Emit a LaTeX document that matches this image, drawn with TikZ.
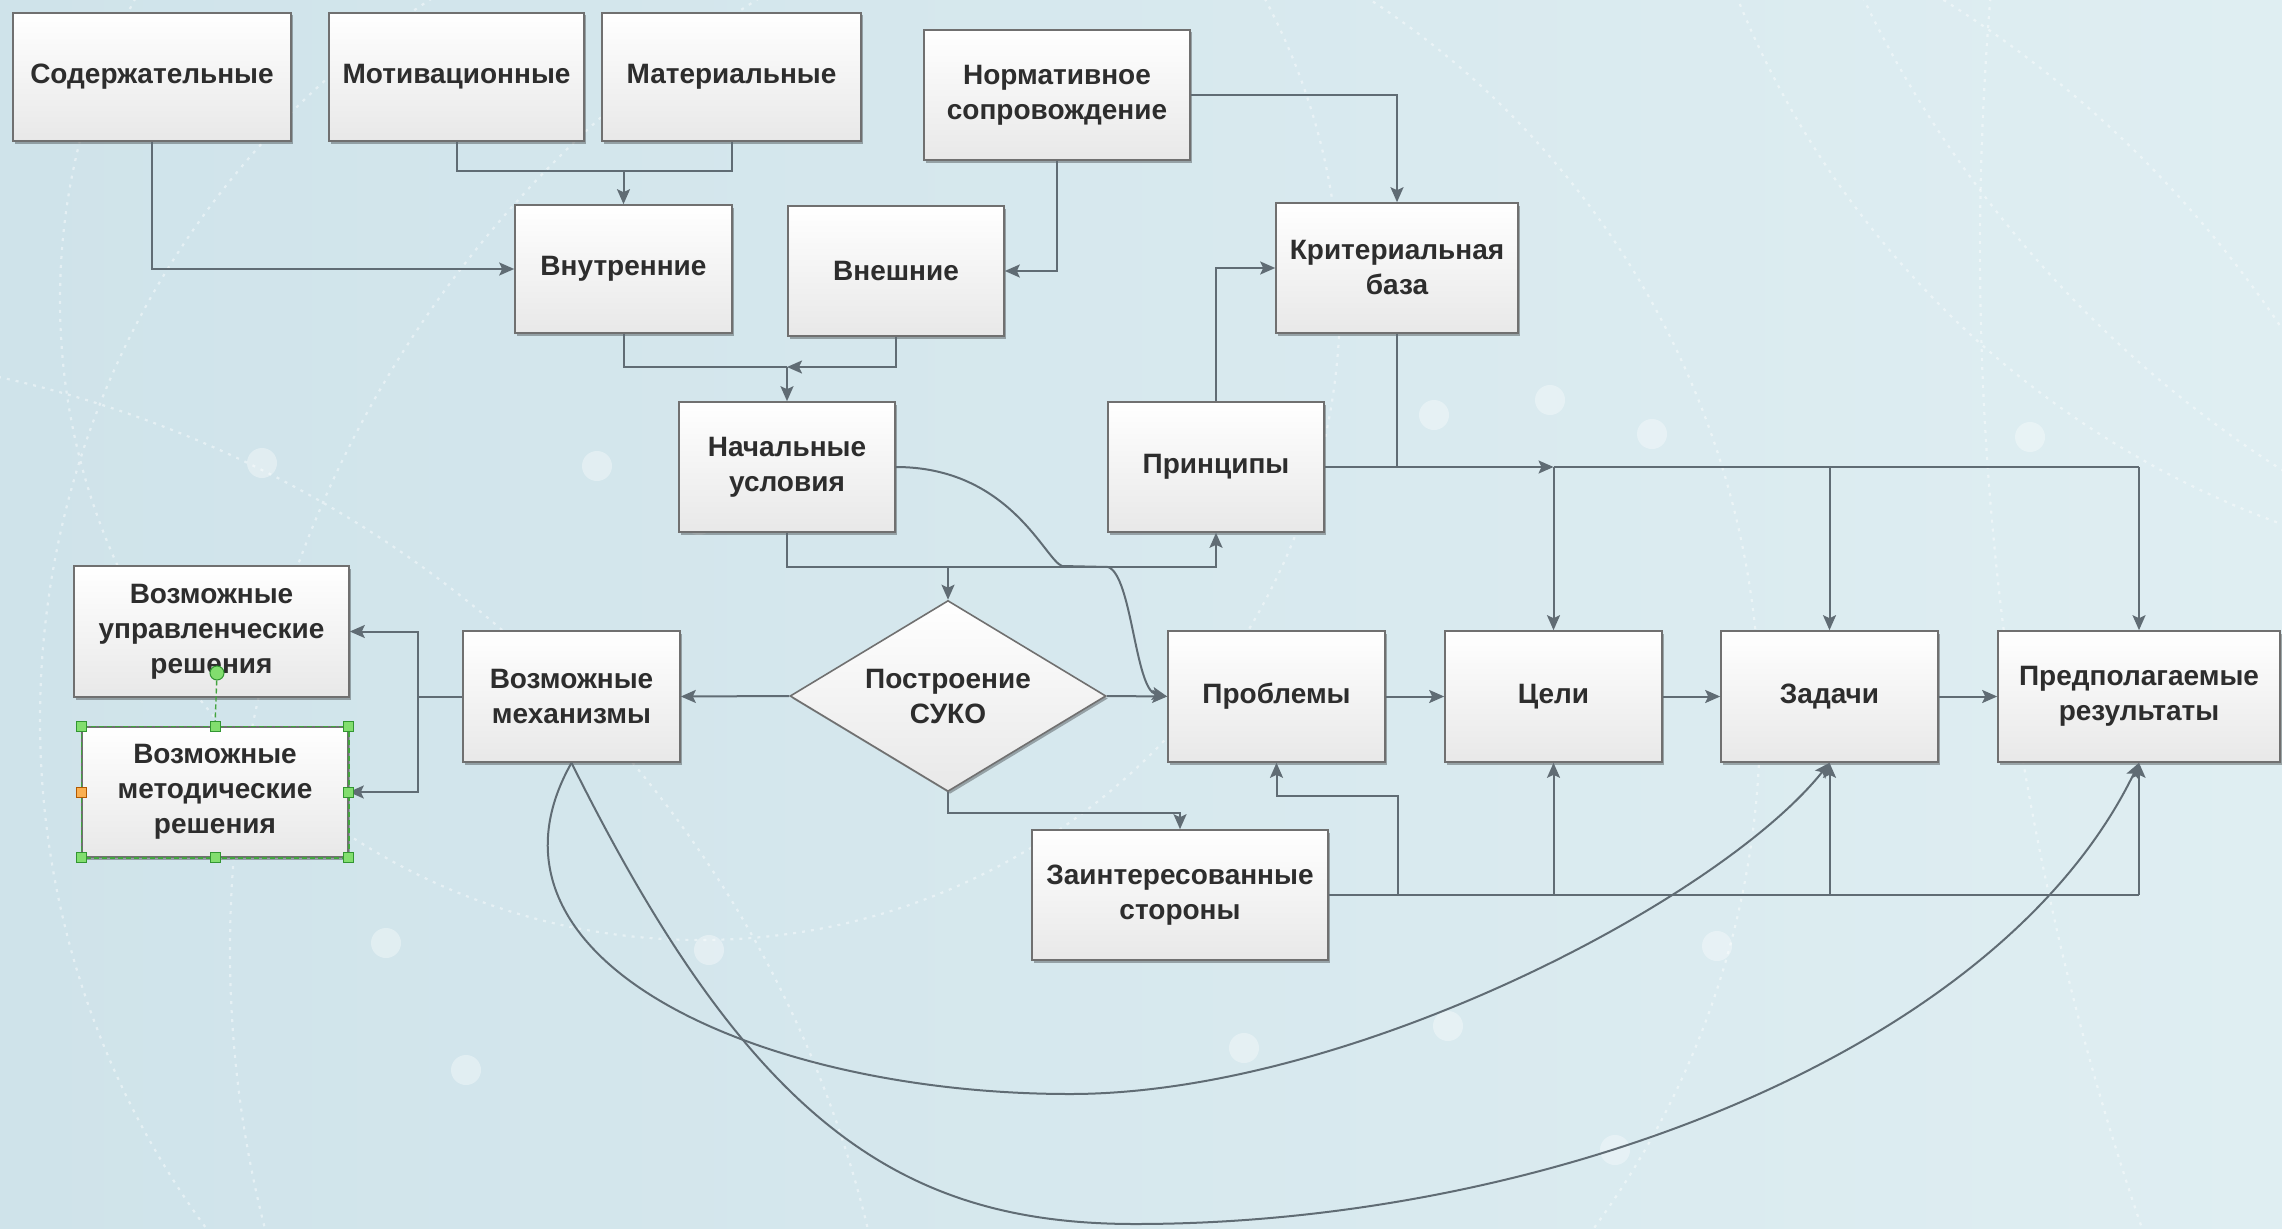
\documentclass[tikz,border=0pt]{standalone}
\usepackage{fontspec}
\setmainfont{Liberation Sans}
\usetikzlibrary{shapes.geometric,arrows.meta,shadows}
\definecolor{bgL}{RGB}{207,227,234}
\definecolor{bgR}{RGB}{223,238,242}
\definecolor{edgeC}{RGB}{112,112,112}
\definecolor{lineC}{RGB}{96,108,116}
\definecolor{txtC}{RGB}{45,45,45}
\definecolor{hgreen}{RGB}{130,222,110}
\definecolor{hgreenD}{RGB}{50,150,50}
\definecolor{horange}{RGB}{250,175,80}
\begin{document}
\begin{tikzpicture}[x=1pt,y=-1pt,
  box/.style={draw=edgeC,line width=1.6pt,top color=white,bottom color=black!9,
    align=center,font=\fontsize{28}{35}\selectfont\bfseries,text=txtC,inner sep=0pt,
    drop shadow={shadow xshift=2pt,shadow yshift=-2.5pt,opacity=0.3,fill=black}},
  decision/.style={box,diamond,aspect=1.65},
  ln/.style={draw=lineC,line width=2pt},
  arr/.style={ln,-{Stealth[length=15pt,width=13pt,inset=3pt]}},
  deco/.style={draw=white,line width=2.2pt,dash pattern=on 3pt off 6pt,opacity=0.45},
  dot/.style={fill=white,opacity=0.35},
  handle/.style={draw=hgreenD,fill=hgreen,line width=1pt,minimum size=10pt,inner sep=0pt},
  sel/.style={draw=hgreenD!80!hgreen,line width=1.4pt,dash pattern=on 5pt off 3pt}]

\useasboundingbox (0,0) rectangle (2282,1228);
\fill[left color=bgL,right color=bgR] (0,0) rectangle (2282,1228);

% background decoration
\begin{scope}
  \clip (0,0) rectangle (2282,1228);
  \draw[deco] (900,720) circle (860);
  \draw[deco] (1350,950) circle (1120);
  \draw[deco] (-250,1500) circle (1150);
  \draw[deco] (2600,-350) circle (930);
  \draw[deco] (2900,-500) circle (1150);
  \draw[deco] (5000,250) circle (3020);
  \draw[deco] (700,300) circle (640);
  \foreach \p in {(262,463),(597,466),(699,520),(386,943),(466,1070),(709,950),
                  (1244,1048),(1448,1026),(1550,400),(1652,434),(1434,415),(2030,437),
                  (1615,1150),(1717,946)}
    \fill[dot] \p circle (15);
\end{scope}

% nodes
\node[box,minimum width=278pt,minimum height=128pt] (sod)   at (152,77)   {Содержательные};
\node[box,minimum width=255pt,minimum height=128pt] (mot)   at (456.5,77) {Мотивационные};
\node[box,minimum width=259pt,minimum height=128pt] (mat)   at (731.5,77) {Материальные};
\node[box,minimum width=266pt,minimum height=130pt] (norm)  at (1057,95)  {Нормативное\\сопровождение};
\node[box,minimum width=217pt,minimum height=128pt] (vnutr) at (623.5,269) {Внутренние};
\node[box,minimum width=216pt,minimum height=130pt] (vnesh) at (896,271)  {Внешние};
\node[box,minimum width=242pt,minimum height=130pt] (krit)  at (1397,268) {Критериальная\\база};
\node[box,minimum width=216pt,minimum height=130pt] (nach)  at (787,467)  {Начальные\\условия};
\node[box,minimum width=216pt,minimum height=130pt] (princ) at (1216,467) {Принципы};
\node[box,minimum width=275pt,minimum height=131pt] (upr)   at (211.5,631.5) {Возможные\\управленческие\\решения};
\node[box,minimum width=266pt,minimum height=130pt] (metod) at (215,792)  {Возможные\\методические\\решения};
\node[box,minimum width=217pt,minimum height=131pt] (mech)  at (571.5,696.5) {Возможные\\механизмы};
\node[decision,minimum width=316pt,minimum height=191pt] (suko) at (948,696) {Построение\\СУКО};
\node[box,minimum width=217pt,minimum height=131pt] (probl) at (1276.5,696.5) {Проблемы};
\node[box,minimum width=217pt,minimum height=131pt] (celi)  at (1553.5,696.5) {Цели};
\node[box,minimum width=217pt,minimum height=131pt] (zad)   at (1829.5,696.5) {Задачи};
\node[box,minimum width=282pt,minimum height=131pt] (predp) at (2139,696.5) {Предполагаемые\\результаты};
\node[box,minimum width=296pt,minimum height=130pt] (zaint) at (1180,895)  {Заинтересованные\\стороны};

% junction coordinates
\coordinate (j1) at (vnutr.north |- 0,171);
\coordinate (j2) at (nach.north |- 0,367);
\coordinate (j3) at (suko.north |- 0,567);
\coordinate (j4) at (suko.south |- 0,813);
\coordinate (kj) at (krit.south |- princ.east);
\coordinate (a1) at (celi.north |- princ.east);
\coordinate (a2) at (zad.north |- princ.east);
\coordinate (a3) at (predp.north |- princ.east);
\coordinate (m1) at (418,696.5);
\coordinate (b0) at (1398,895);
\coordinate (b0p) at (1398,796);
\coordinate (b1) at (celi.south |- zaint.east);
\coordinate (b2) at (zad.south |- zaint.east);
\coordinate (b3) at (predp.south |- zaint.east);
\coordinate (c1) at (1062,566);
\coordinate (c2) at (1108,567);
\coordinate (c3) at (1070,1094);
\coordinate (c4) at (1135,1224);

% connectors
\draw[arr] (sod.south) |- (vnutr.west);
\draw[ln] (mot.south) |- (j1) -| (mat.south);
\draw[arr] (j1) -- (vnutr.north);
\draw[ln] (vnutr.south) |- (j2);
\draw[arr] (vnesh.south) |- (j2);
\draw[arr] (j2) -- (nach.north);
\draw[arr] (norm.south) |- (vnesh.east);
\draw[arr] (norm.east) -| (krit.north);
\draw[ln] (nach.south) |- (j3);
\draw[arr] (j3) -| (princ.south);
\draw[arr] (j3) -- (suko.north);
\draw[arr] (princ.north) |- (krit.west);
\draw[ln] (krit.south) -- (kj);
\draw[arr] (princ.east) -- (a1);
\draw[ln] (a1) -- (a3);
\draw[arr] (a1) -- (celi.north);
\draw[arr] (a2) -- (zad.north);
\draw[arr] (a3) -- (predp.north);
\draw[arr] (suko.west) -- (mech.east);
\draw[arr] (suko.east) -- (probl.west);
\draw[arr] (suko.south) -- (j4) -| (zaint.north);
\draw[ln] (mech.west) -- (m1);
\draw[arr] (m1) |- (upr.east);
\draw[arr] (m1) |- (metod.east);
\draw[arr] (probl.east) -- (celi.west);
\draw[arr] (celi.east) -- (zad.west);
\draw[arr] (zad.east) -- (predp.west);
\draw[ln] (zaint.east) -- (b3);
\draw[arr] (b0) -- (b0p) -| (probl.south);
\draw[arr] (b1) -- (celi.south);
\draw[arr] (b2) -- (zad.south);
\draw[arr] (b3) -- (predp.south);
\draw[arr] (nach.east) .. controls (1010,467) and (1045,560) .. (c1) -- (c2)
  .. controls (1132,575) and (1135,690) .. (probl.west);
\draw[arr] (mech.south) .. controls (460,960) and (760,1094) .. (c3)
  .. controls (1350,1094) and (1720,900) .. (zad.south);
\draw[arr] (mech.south) .. controls (750,1122) and (900,1224) .. (c4)
  .. controls (1550,1224) and (2000,1050) .. (predp.south);

% selection handles on "methodical decisions"
\draw[sel] (metod.north west) rectangle (metod.south east);
\node[draw=hgreenD,fill=hgreen,circle,line width=1pt,minimum size=14pt,inner sep=0pt] (hrot) at (217,673) {};
\draw[sel] (hrot) -- (metod.north);
\node[handle] (h1) at (metod.north west) {};
\node[handle] (h2) at (metod.north) {};
\node[handle] (h3) at (metod.north east) {};
\node[handle,fill=horange,draw=orange!70!black] (h4) at (metod.west) {};
\node[handle] (h5) at (metod.east) {};
\node[handle] (h6) at (metod.south west) {};
\node[handle] (h7) at (metod.south) {};
\node[handle] (h8) at (metod.south east) {};
\end{tikzpicture}
\end{document}
